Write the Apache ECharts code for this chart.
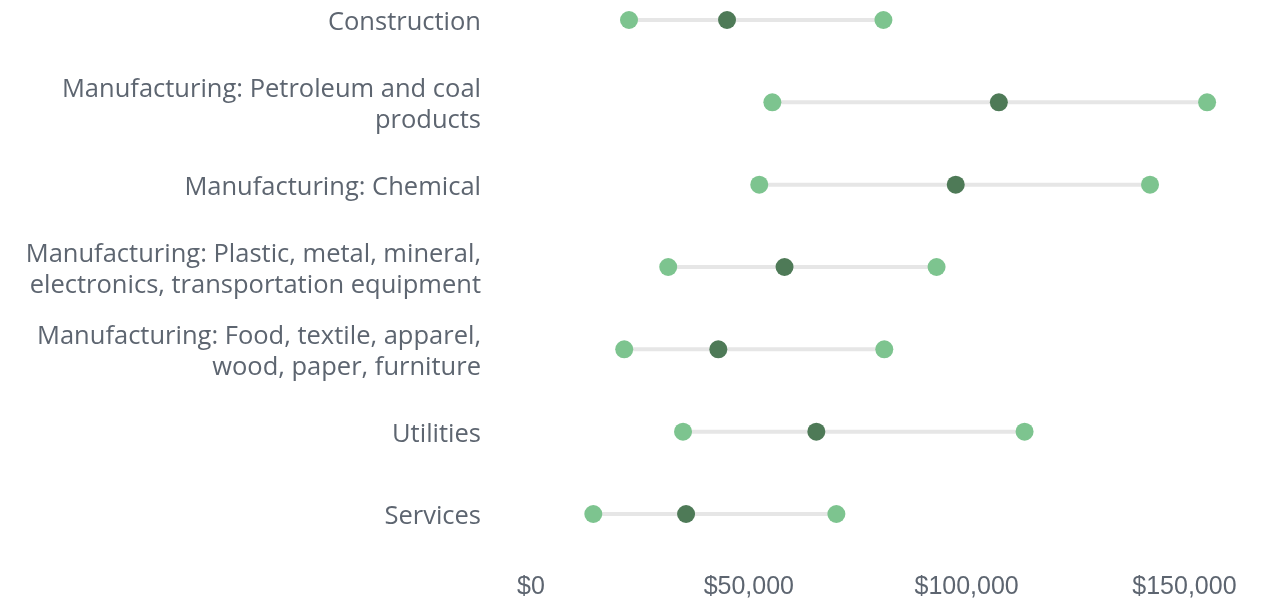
<!DOCTYPE html>
<html>
<head>
<meta charset="utf-8">
<script src="https://cdn.jsdelivr.net/npm/echarts@6/dist/echarts.min.js"></script>
<style>
  html, body { margin: 0; padding: 0; background: #fff; }
  #chart { width: 1263px; height: 600px; }
</style>
</head>
<body>
<div id="chart"></div>
<script>
var categories = [
  'Construction',
  'Manufacturing: Petroleum and coal\nproducts',
  'Manufacturing: Chemical',
  'Manufacturing: Plastic, metal, mineral,\nelectronics, transportation equipment',
  'Manufacturing: Food, textile, apparel,\nwood, paper, furniture',
  'Utilities',
  'Services'
]
var lowValues = [22500, 55400, 52400, 31500, 21400, 34900, 14300]
var midValues = [45000, 107400, 97500, 58200, 43000, 65500, 35600]
var highValues = [80900, 155200, 142100, 93100, 81100, 113300, 70100]
var xTicks = [0, 50000, 100000, 150000]

var COLORS = {
  light: '#7dc48f',
  dark: '#4e7a57',
  line: '#e6e6e6',
  text: '#5d6570'
}

var chart = echarts.init(document.getElementById('chart'))

var rangeData = categories.map(function (c, i) {
  return [i, lowValues[i], highValues[i]]
})

// grid 0 holds the marks, grid 1 only carries the category labels (nudged down a little)
var option = {
  animation: false,
  grid: [
    { left: 531, right: 35, top: 20, bottom: 86, outerBoundsMode: 'none' },
    { left: 531, right: 35, top: 23, bottom: 83, outerBoundsMode: 'none' }
  ],
  xAxis: [
    {
      type: 'value',
      gridIndex: 0,
      min: xTicks[0],
      max: 160000,
      interval: xTicks[1] - xTicks[0],
      axisLine: { show: false },
      axisTick: { show: false },
      splitLine: { show: false },
      axisLabel: {
        showMaxLabel: false,
        margin: 61,
        color: COLORS.text,
        fontSize: 25,
        fontFamily: 'Liberation Sans',
        formatter: function (v) {
          return '$' + v.toLocaleString('en-US')
        }
      }
    },
    {
      type: 'value',
      gridIndex: 1,
      min: 0,
      max: 160000,
      show: false
    }
  ],
  yAxis: [
    {
      type: 'category',
      gridIndex: 0,
      data: categories,
      inverse: true,
      boundaryGap: false,
      axisLine: { show: false },
      axisTick: { show: false },
      splitLine: { show: false },
      axisLabel: { show: false }
    },
    {
      type: 'category',
      gridIndex: 1,
      data: categories,
      inverse: true,
      boundaryGap: false,
      axisLine: { show: false },
      axisTick: { show: false },
      splitLine: { show: false },
      axisLabel: {
        margin: 50,
        color: COLORS.text,
        fontSize: 25.5,
        lineHeight: 31,
        fontFamily: 'Open Sans',
        align: 'right'
      }
    }
  ],
  series: [
    {
      type: 'custom',
      data: rangeData,
      encode: { y: 0, x: [1, 2] },
      z: 1,
      renderItem: function (params, api) {
        var start = api.coord([api.value(1), api.value(0)])
        var end = api.coord([api.value(2), api.value(0)])
        return {
          type: 'line',
          shape: { x1: start[0], y1: start[1], x2: end[0], y2: end[1] },
          style: { stroke: COLORS.line, lineWidth: 4 }
        }
      }
    },
    {
      type: 'scatter',
      data: lowValues.map(function (v, i) { return [v, i] }),
      symbolSize: 18,
      itemStyle: { color: COLORS.light, opacity: 1 },
      z: 2
    },
    {
      type: 'scatter',
      data: highValues.map(function (v, i) { return [v, i] }),
      symbolSize: 18,
      itemStyle: { color: COLORS.light, opacity: 1 },
      z: 2
    },
    {
      type: 'scatter',
      data: midValues.map(function (v, i) { return [v, i] }),
      symbolSize: 18,
      itemStyle: { color: COLORS.dark, opacity: 1 },
      z: 3
    }
  ]
}

chart.setOption(option)
</script>
</body>
</html>
